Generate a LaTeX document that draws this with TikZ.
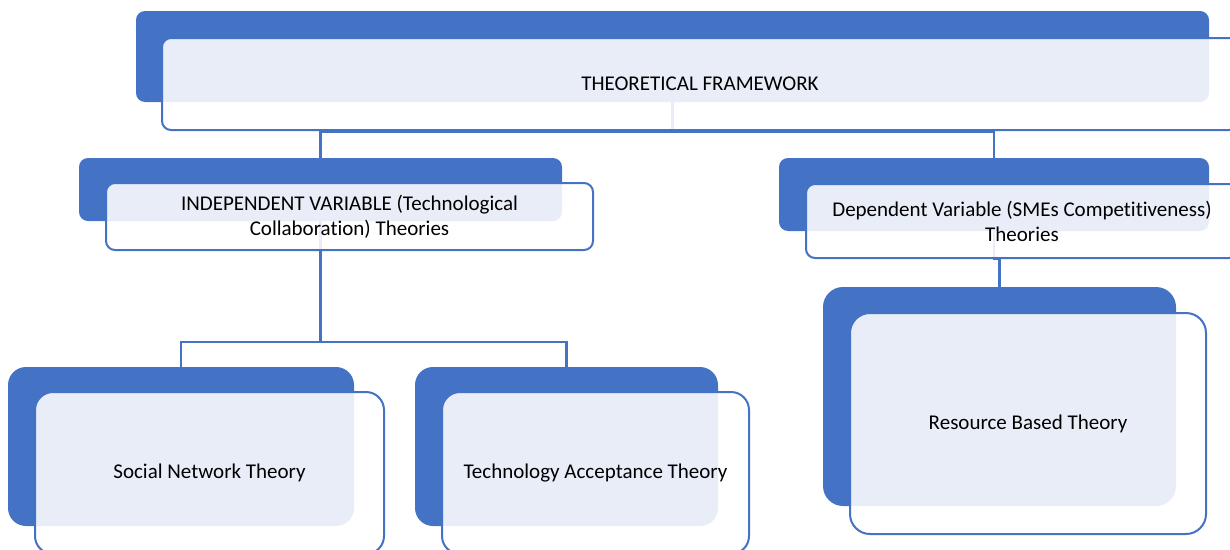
\documentclass[tikz,border=0pt]{standalone}
\usepackage{fontspec}
\setmainfont{Carlito}[Ligatures={NoCommon}]
\usetikzlibrary{calc}
\definecolor{accent}{HTML}{4472C4}
\tikzset{
  backbox/.style={fill=accent, draw=none, rounded corners=#1, inner sep=0pt, outer sep=0pt},
  backbox/.default=9pt,
  frontbox/.style={draw=accent, line width=2pt, fill=white, fill opacity=0.88, text opacity=1,
    rounded corners=#1, inner sep=0pt, outer sep=0pt, align=center,
    font=\fontsize{21}{25}\selectfont, text=black},
  frontbox/.default=9pt,
  link/.style={draw=accent, line width=2.4pt}
}
\begin{document}
\begin{tikzpicture}[x=1pt,y=-1pt]
  \useasboundingbox (0,0) rectangle (1230,549);
  \clip (0,0) rectangle (1230,549);

  % back plates
  \node[backbox, minimum width=1073pt, minimum height=91pt] (topb) at (672.5,56.5) {};
  \node[backbox, minimum width=483pt, minimum height=63pt] (indb) at (320.5,189.5) {};
  \node[backbox, minimum width=430pt, minimum height=73pt] (depb) at (994,194.5) {};
  \node[backbox=18pt, minimum width=346pt, minimum height=159pt] (socb) at (181,446.5) {};
  \node[backbox=18pt, minimum width=303pt, minimum height=159pt] (tecb) at (566.5,446.5) {};
  \node[backbox=20pt, minimum width=353pt, minimum height=219pt] (resb) at (999.5,396.5) {};

  % junction points of the connectors
  \coordinate (j1) at (672.5,132);
  \coordinate (j2) at (994,259);
  \coordinate (j3) at (320.5,342);

  % connectors
  \draw[link] (topb.south) -- (j1) -| (indb.north);
  \draw[link] (j1) -| (depb.north);
  \draw[link] (indb.south) -- (j3) -| (socb.north);
  \draw[link] (j3) -| (tecb.north);
  \draw[link] (depb.south) -- (j2) -| (resb.north);

  % front cards with the labels
  \node[frontbox, minimum width=1076pt, minimum height=92pt] (topf) at (700,84) {THEORETICAL FRAMEWORK};
  \node[frontbox, minimum width=487pt, minimum height=67pt] (indf) at (349.5,216.5)
    {INDEPENDENT VARIABLE (Technological\\Collaboration) Theories};
  \node[frontbox, minimum width=432pt, minimum height=74pt] (depf) at (1022,221)
    {Dependent Variable (SMEs Competitiveness)\\Theories};
  \node[frontbox=18pt, minimum width=349pt, minimum height=162pt] (socf) at (209.5,473) {Social Network Theory};
  \node[frontbox=18pt, minimum width=307pt, minimum height=162pt] (tecf) at (595.5,473) {Technology Acceptance Theory};
  \node[frontbox=20pt, minimum width=356pt, minimum height=221pt] (resf) at (1028,423.5) {Resource Based Theory};
\end{tikzpicture}
\end{document}
